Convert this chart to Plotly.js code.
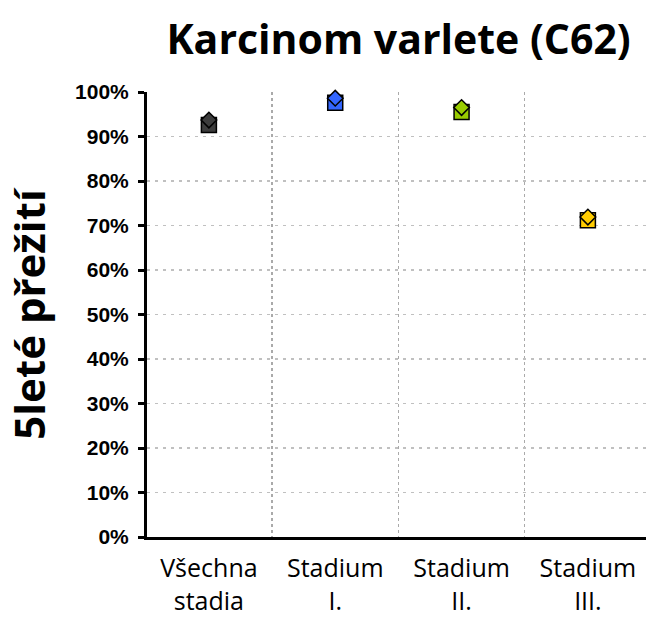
<!DOCTYPE html>
<html>
<head>
<meta charset="utf-8">
<script src="https://cdn.plot.ly/plotly-3.0.1.min.js"></script>
<style>html,body{margin:0;padding:0;background:#fff;}#chart{width:646px;height:617px;}</style>
</head>
<body>
<div id="chart"></div>
<script>
const categories = ["Všechna<br>stadia", "Stadium<br>I.", "Stadium<br>II.", "Stadium<br>III."];
const squareValues = [0.926, 0.976, 0.955, 0.712];
const diamondValues = [0.937, 0.986, 0.965, 0.719];
const colors = ["#3c3c3c", "#3366ff", "#99cc00", "#ffcc00"];
const yTickVals = [0,0.1,0.2,0.3,0.4,0.5,0.6,0.7,0.8,0.9,1.0];
const yTickText = ["0%","10%","20%","30%","40%","50%","60%","70%","80%","90%","100%"];

const xpos = categories.map((c,i)=>i);

const traces = [
  {type:'scatter', mode:'markers', x:xpos, y:squareValues, cliponaxis:false, hoverinfo:'skip',
   marker:{symbol:'square', size:15, color:colors, line:{color:'#000', width:1.5}}},
  {type:'scatter', mode:'markers', x:xpos, y:diamondValues, cliponaxis:false, hoverinfo:'skip',
   marker:{symbol:'diamond', size:12, color:colors, line:{color:'#000', width:1.5}}}
];

const layout = {
  width:646, height:617,
  margin:{l:147, r:0, t:92, b:80},
  paper_bgcolor:'#fff', plot_bgcolor:'#fff',
  showlegend:false,
  title:{text:'<b>Karcinom varlete (C62)</b>', x:0.617, xanchor:'center', xref:'container', y:0.935, yanchor:'middle', yref:'container',
         font:{family:'Open Sans, Lato, sans-serif', size:41, color:'#000'}},
  xaxis:{range:[-0.49, 3.46], tickvals:xpos, ticktext:categories, showgrid:false, zeroline:false,
         showline:true, linecolor:'#000', linewidth:3, ticks:'outside', ticklen:7, tickcolor:'rgba(0,0,0,0)',
         tickfont:{family:'Open Sans, Lato, sans-serif', size:25, color:'#000'},
         minor:{tickvals:[0.5,1.5,2.5], showgrid:true, gridcolor:'#aaa', gridwidth:1.5, griddash:'dot', ticks:''},
         fixedrange:true},
  yaxis:{range:[0,1], tickvals:yTickVals, ticktext:yTickText, showgrid:true, gridcolor:'#c0c0c0', gridwidth:1.5, griddash:'3px,5px',
         zeroline:false, showline:true, linecolor:'#000', linewidth:3, ticks:'outside', ticklen:6, tickwidth:3, tickcolor:'#000',
         ticklabelstandoff:5,
         tickfont:{family:'Liberation Sans, Arial, sans-serif', size:21, color:'#000', weight:'bold'},
         title:{text:'<b>5leté přežití</b>', standoff:20, font:{family:'Open Sans, Lato, sans-serif', size:42, color:'#000'}},
         fixedrange:true}
};

Plotly.newPlot('chart', traces, layout, {displayModeBar:false, staticPlot:true});
</script>
</body>
</html>
